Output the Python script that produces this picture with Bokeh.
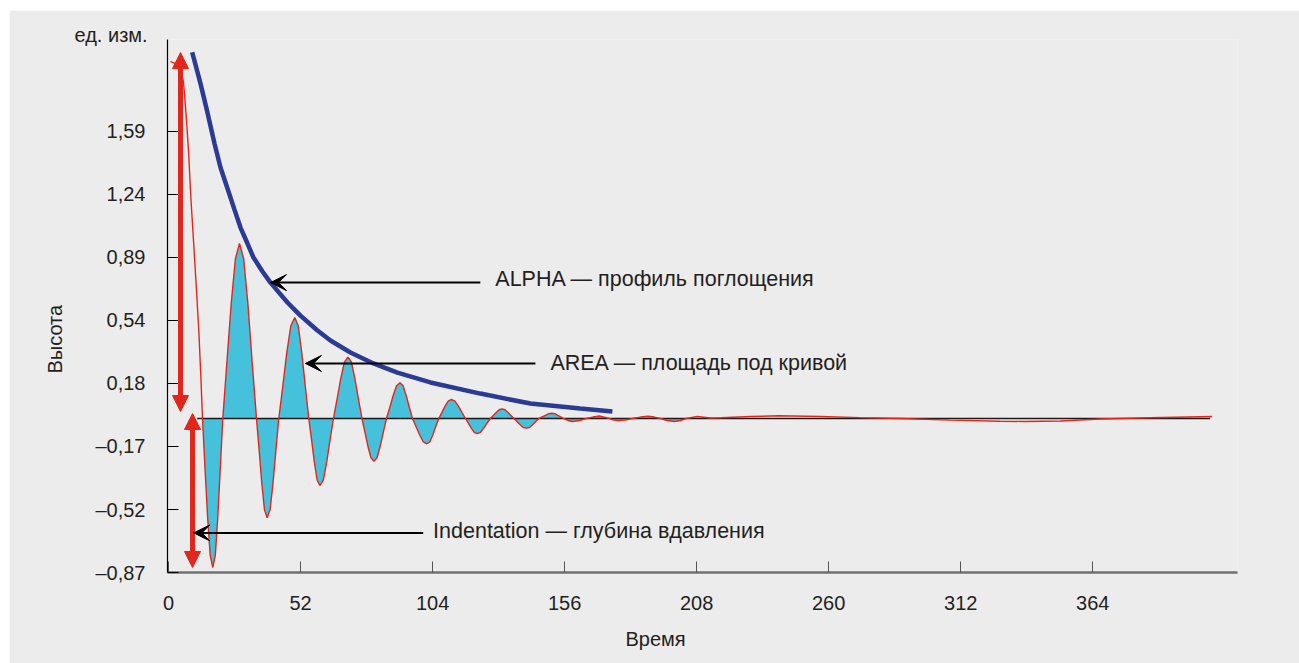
import numpy as np
from bokeh.plotting import figure
from bokeh.models import Range1d, FixedTicker, Arrow, NormalHead, VeeHead, Label, Title
from bokeh.embed import file_html
from bokeh.resources import INLINE

# ---- data ----
time_signal = [
    0.79, 2.36, 3.94, 5.12, 5.91, 6.50, 7.09, 7.87, 8.86, 9.84, 11.02, 11.93, 12.80, 13.39,
    14.37, 15.39, 16.42, 17.44, 18.43, 19.41, 20.39, 21.38,
    23.03, 24.69, 26.34, 27.95, 29.61, 31.26, 32.91, 34.65,
    35.71, 36.75, 37.80, 38.86, 40.00, 41.14, 42.28, 43.43,
    45.00, 46.57, 48.15, 49.72, 51.10, 52.48, 53.86, 55.24,
    56.34, 57.44, 58.54, 59.65, 60.98, 62.30, 63.62, 64.96,
    66.38, 67.81, 69.25, 70.67, 72.05, 73.43, 74.80, 76.18,
    77.36, 78.54, 79.72, 80.91, 82.13, 83.35, 84.61, 85.83,
    87.17, 88.48, 89.80, 91.14, 92.36, 93.60, 94.84, 96.06,
    97.48, 98.92, 100.35, 101.77, 102.93, 104.09, 105.26, 106.42,
    107.68, 108.92, 110.16, 111.42, 112.80, 114.17, 115.55, 116.93,
    118.09, 119.25, 120.41, 121.57, 122.87, 124.17, 125.47, 126.77,
    127.91, 129.06, 130.20, 131.34, 132.52, 133.66, 134.84, 136.02,
    137.24, 138.48, 139.72, 140.94, 142.17, 143.41, 144.65, 145.87,
    147.15, 148.43, 149.70, 150.98, 152.17, 153.31, 154.49, 155.63,
    157.36, 159.06, 161.81, 164.57,
    167.13, 169.69, 171.65, 173.62,
    175.39, 177.17, 179.92, 182.68,
    185.83, 188.86, 191.34, 193.70,
    196.46, 199.21, 201.57, 203.94,
    208.27, 213.39, 217.72, 229.13, 240.16, 256.69, 272.44, 288.19,
    307.87, 327.56, 337.40, 351.18, 366.93, 386.61, 411.02,
]
height_signal = [
    1.980, 1.971, 1.952, 1.918, 1.863, 1.762, 1.651, 1.483, 1.205, 0.982, 0.703, 0.480, 0.201, -0.011,
    -0.290, -0.560, -0.775, -0.842, -0.775, -0.560, -0.290, -0.011,
    0.310, 0.630, 0.880, 0.965, 0.880, 0.630, 0.310, -0.011,
    -0.190, -0.375, -0.520, -0.565, -0.520, -0.375, -0.190, -0.011,
    0.170, 0.355, 0.505, 0.552, 0.505, 0.355, 0.170, -0.011,
    -0.130, -0.255, -0.355, -0.385, -0.355, -0.255, -0.130, -0.011,
    0.097, 0.210, 0.303, 0.331, 0.303, 0.210, 0.097, -0.011,
    -0.087, -0.166, -0.230, -0.249, -0.230, -0.166, -0.087, -0.011,
    0.052, 0.117, 0.172, 0.188, 0.172, 0.117, 0.052, -0.011,
    -0.056, -0.103, -0.141, -0.152, -0.141, -0.103, -0.056, -0.011,
    0.023, 0.058, 0.086, 0.095, 0.086, 0.058, 0.023, -0.011,
    -0.037, -0.065, -0.088, -0.095, -0.088, -0.065, -0.037, -0.011,
    0.006, 0.023, 0.038, 0.043, 0.038, 0.023, 0.006, -0.011,
    -0.028, -0.046, -0.061, -0.065, -0.061, -0.046, -0.028, -0.011,
    -0.002, 0.007, 0.016, 0.018, 0.016, 0.007, -0.002, -0.011,
    -0.022, -0.028, -0.022, -0.011,
    -0.003, 0.003, -0.003, -0.011,
    -0.020, -0.022, -0.020, -0.011,
    -0.003, 0.002, -0.003, -0.011,
    -0.022, -0.028, -0.022, -0.011,
    0.000, -0.008, -0.007, 0.000, 0.004, 0.000, -0.006, -0.011,
    -0.020, -0.026, -0.028, -0.025, -0.014, -0.007, 0.000,
]

time_alpha = [9.33, 12.6, 15.35, 18.11, 20.47, 23.23, 25.98, 28.35, 31.1, 33.46, 37.0, 40.16,
              46.85, 51.97, 58.66, 63.78, 71.65, 80.7, 90.16, 103.15, 122.8, 142.5, 162.2, 174.8]
alpha_profile = [2.032, 1.857, 1.695, 1.523, 1.389, 1.272, 1.154, 1.054, 0.965, 0.887, 0.809, 0.747,
                 0.636, 0.563, 0.480, 0.424, 0.357, 0.296, 0.245, 0.190, 0.128, 0.0725, 0.0446, 0.0279]

baseline_level = -0.011
baseline_time = [11.3, 410.2]
area_time_span = [13.3, 204.0]

x_tick_values = [0, 52, 104, 156, 208, 260, 312, 364]
y_tick_values = [-0.87, -0.5186, -0.1671, 0.1843, 0.5357, 0.8871, 1.2386, 1.59]
y_tick_labels = ["–0,87", "–0,52", "–0,17", "0,18", "0,54", "0,89", "1,24", "1,59"]

# annotation anchors (data units)
alpha_arrow = dict(x0=122.8, x1=40.16, y=0.747)
area_arrow = dict(x0=144.5, x1=53.9, y=0.296)
indent_arrow = dict(x0=100.3, x1=9.96, y=-0.649)
height_arrow_top = dict(x=4.72, y0=2.030, y1=0.028)
height_arrow_bottom = dict(x=9.45, y0=0.017, y1=-0.842)

FONT = "Liberation Sans"
TXT = "#231f20"
RED = "#e2261c"
NAVY = "#2b3a95"
CYAN = "#45c1dc"
BG = "#ececec"

p = figure(width=1290, height=653, output_backend="svg", toolbar_location=None,
           x_range=Range1d(-0.4, 421), y_range=Range1d(-0.87, 2.103),
           min_border_left=158, min_border_right=62, min_border_top=29, min_border_bottom=91)
p.margin = (10, 0, 0, 9)
p.background_fill_color = BG
p.border_fill_color = BG
p.outline_line_color = None
p.grid.visible = False

# axes
p.xaxis.ticker = FixedTicker(ticks=x_tick_values)
p.yaxis.ticker = FixedTicker(ticks=y_tick_values)
p.yaxis.major_label_overrides = {v: s for v, s in zip(y_tick_values, y_tick_labels)}
p.xaxis.major_label_overrides = {v: str(v) for v in x_tick_values}
for ax in (p.xaxis, p.yaxis):
    ax.major_tick_in = 11
    ax.major_tick_out = 0
    ax.minor_tick_in = 0
    ax.minor_tick_out = 0
    ax.major_label_text_font = FONT
    ax.major_label_text_font_size = "20px"
    ax.major_label_text_color = TXT
p.yaxis.axis_line_color = "black"
p.yaxis.axis_line_width = 1.2
p.yaxis.major_tick_line_color = "black"
p.yaxis.major_label_standoff = 22
p.xaxis.axis_line_color = "#707070"
p.xaxis.axis_line_width = 2.5
p.xaxis.major_tick_line_color = "#555555"
p.xaxis.major_label_standoff = 23

t = np.array(time_signal)
h = np.array(height_signal)
m = (t >= area_time_span[0]) & (t <= area_time_span[1])
p.varea(x=t[m], y1=np.full(m.sum(), baseline_level), y2=h[m], fill_color=CYAN)
p.line(baseline_time, [baseline_level, baseline_level], line_color="#1a1a1a", line_width=1.6)
p.line(time_signal, height_signal, line_color=RED, line_width=1.4)
p.line(time_alpha, alpha_profile, line_color=NAVY, line_width=4.5)

# red double arrows
for a in (height_arrow_top, height_arrow_bottom):
    p.add_layout(Arrow(x_start=a["x"], y_start=a["y0"], x_end=a["x"], y_end=a["y1"],
                       line_color=RED, line_width=5,
                       start=NormalHead(size=16, fill_color=RED, line_color=RED, line_width=1),
                       end=NormalHead(size=16, fill_color=RED, line_color=RED, line_width=1)))

# black pointer arrows
for a in (alpha_arrow, area_arrow, indent_arrow):
    p.add_layout(Arrow(x_start=a["x0"], y_start=a["y"], x_end=a["x1"], y_end=a["y"],
                       line_color="black", line_width=2,
                       end=VeeHead(size=16, fill_color="black", line_color="black", line_width=1)))

def lab(x, y, text):
    p.add_layout(Label(x=x, y=y, text=text, text_font=FONT, text_font_size="21.5px",
                       text_color=TXT, text_align="left", text_baseline="middle"))

lab(128.7, 0.765, "ALPHA — профиль поглощения")
lab(150.4, 0.296, "AREA — площадь под кривой")
lab(104.2, -0.641, "Indentation — глубина вдавления")

def side_title(text, place, align, offset, standoff):
    p.add_layout(Title(text=text, align=align, offset=offset, standoff=standoff,
                       text_font=FONT, text_font_size="20px", text_font_style="normal",
                       text_color=TXT), place)

side_title("ед. изм.", "above", "left", -93, -13)
side_title("Время", "below", "left", 458, 27)
side_title("Высота", "left", "left", 199, 54)

open("out.html", "w").write(file_html(p, INLINE))
